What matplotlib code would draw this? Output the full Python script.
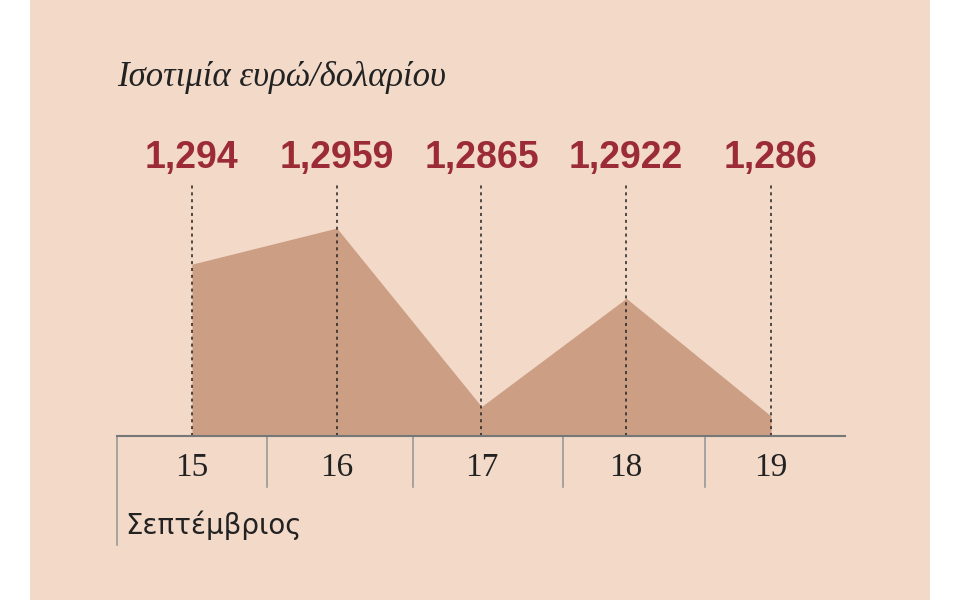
import matplotlib
matplotlib.use("Agg")
import matplotlib.pyplot as plt
from matplotlib.patches import Rectangle

days = ["15", "16", "17", "18", "19"]
values = [1.294, 1.2959, 1.2865, 1.2922, 1.286]
labels = ["1,294", "1,2959", "1,2865", "1,2922", "1,286"]
base = 1.28495

fig = plt.figure(figsize=(9.6, 6), dpi=100)
fig.patch.set_facecolor("white")
fig.add_artist(Rectangle((30/960, 0), 900/960, 1, transform=fig.transFigure,
                         facecolor="#f2d9c8", edgecolor="none", zorder=0))
ax = fig.add_axes([0, 0, 1, 1])
ax.set_facecolor("none")
ax.axis("off")
step = 144.75
ax.set_xlim(-192/step, (960-192)/step)
ppx = 5.266e-5
ax.set_ylim(base - 164*ppx, base + 436*ppx)

x = list(range(len(days)))
ax.fill_between(x, values, base, color="#cc9e84", lw=0, zorder=1)
top = base + (436-185)*ppx
for i, v in enumerate(values):
    ax.plot([i, i], [base, top], ls=(0, (2, 2.5)), color="#222222", lw=1.1, zorder=2)
    ax.text(i, base + (436-158)*ppx, labels[i], ha="center", va="center",
            fontsize=27, fontweight="bold", color="#9b2c36", family="Liberation Sans",
            fontstretch="condensed")
    ax.text(i, base - 32*ppx, days[i], ha="center", va="center", fontsize=24,
            family="Liberation Serif", color="#222222")

def px2x(p):
    return (p-192)/step
ax.plot([px2x(117), px2x(845)], [base, base], color="#777777", lw=1.5, zorder=3)
for p in [267, 413, 563, 705]:
    ax.plot([px2x(p), px2x(p)], [base, base-51*ppx], color="#999999", lw=1.2)
ax.plot([px2x(117), px2x(117)], [base, base-109*ppx], color="#999999", lw=1.2)
ax.text(px2x(125), base-89*ppx, "Σεπτέμβριος", ha="left", va="center", fontsize=20,
        family="DejaVu Sans", color="#222222")
ax.text(px2x(117), base+(436-78)*ppx, "Ισοτιμία ευρώ/δολαρίου", ha="left", va="center",
        fontsize=25, family="Liberation Serif", style="italic", color="#222222")
fig.savefig("out.png", dpi=100)
